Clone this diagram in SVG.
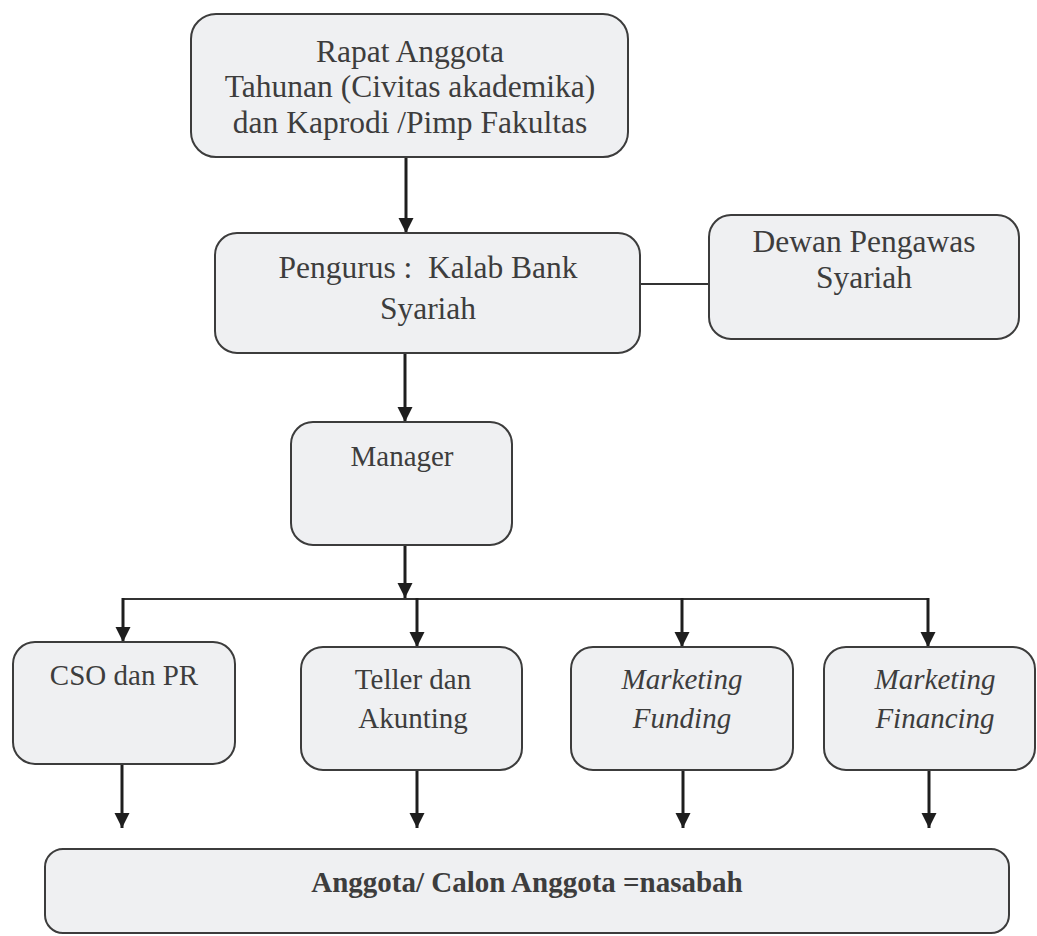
<svg xmlns="http://www.w3.org/2000/svg" width="1037" height="936" viewBox="0 0 1037 936">
<style>
.box{fill:#eff0f2;stroke:#3c3c3c;stroke-width:2}
text{font-family:'Liberation Serif','Times New Roman','DejaVu Serif',serif;fill:#3d3d3d;text-anchor:middle}
.big{font-size:31.5px}
.sm{font-size:29px}
.it{font-style:italic}
.bd{font-weight:bold;font-size:29px}
.arr{stroke:#1e1e1e;stroke-width:3;fill:none;marker-end:url(#ah)}
.ln{stroke:#333;stroke-width:2;fill:none}
</style>
<defs>
<marker id="ah" markerUnits="userSpaceOnUse" markerWidth="16" markerHeight="16" viewBox="0 0 16 16" refX="15" refY="8" orient="auto">
<path d="M0,0.5 L15,8 L0,15.5 z" fill="#1e1e1e"/>
</marker>
</defs>
<rect width="1037" height="936" fill="#fff"/>
<g id="connectors">
<line class="arr" x1="406" y1="157" x2="406" y2="233"/>
<line class="ln" x1="640" y1="284" x2="709" y2="284"/>
<line class="arr" x1="405" y1="353" x2="405" y2="422"/>
<line class="arr" x1="405" y1="545" x2="405" y2="598"/>
<line class="ln" x1="122" y1="599" x2="929" y2="599"/>
<line class="arr" x1="123" y1="598" x2="123" y2="642"/>
<line class="arr" x1="417" y1="598" x2="417" y2="647"/>
<line class="arr" x1="682" y1="598" x2="682" y2="647"/>
<line class="arr" x1="928" y1="598" x2="928" y2="647"/>
<line class="arr" x1="122" y1="764" x2="122" y2="828"/>
<line class="arr" x1="417" y1="763" x2="417" y2="828"/>
<line class="arr" x1="683" y1="769" x2="683" y2="828"/>
<line class="arr" x1="929" y1="768" x2="929" y2="828"/>
</g>
<g id="rapat" font-family="Liberation Serif, serif">
<rect class="box" x="191" y="14" width="437" height="143" rx="25"/>
<text class="big" x="410" y="62">Rapat Anggota</text>
<text class="big" x="410" y="97">Tahunan (Civitas akademika)</text>
<text class="big" x="410" y="133">dan Kaprodi /Pimp Fakultas</text>
</g>
<g id="pengurus">
<rect class="box" x="215" y="233" width="425" height="120" rx="22"/>
<text class="big" x="428" y="278" xml:space="preserve">Pengurus :  Kalab Bank</text>
<text class="big" x="428" y="319">Syariah</text>
</g>
<g id="dewan">
<rect class="box" x="709" y="215" width="310" height="124" rx="22"/>
<text class="big" x="864" y="252">Dewan Pengawas</text>
<text class="big" x="864" y="288">Syariah</text>
</g>
<g id="manager">
<rect class="box" x="291" y="422" width="221" height="123" rx="22"/>
<text class="sm" x="402" y="466">Manager</text>
</g>
<g id="cso">
<rect class="box" x="13" y="642" width="222" height="122" rx="22"/>
<text class="sm" x="124" y="685">CSO dan PR</text>
</g>
<g id="teller">
<rect class="box" x="301" y="647" width="221" height="123" rx="22"/>
<text class="sm" x="413" y="689">Teller dan</text>
<text class="sm" x="413" y="728">Akunting</text>
</g>
<g id="funding">
<rect class="box" x="571" y="647" width="222" height="123" rx="22"/>
<text class="sm it" x="682" y="689">Marketing</text>
<text class="sm it" x="682" y="728">Funding</text>
</g>
<g id="financing">
<rect class="box" x="824" y="647" width="211" height="123" rx="22"/>
<text class="sm it" x="935" y="689">Marketing</text>
<text class="sm it" x="935" y="728">Financing</text>
</g>
<g id="anggota">
<rect class="box" x="45" y="849" width="964" height="84" rx="18"/>
<text class="bd" x="527" y="892">Anggota/ Calon Anggota =nasabah</text>
</g>
</svg>
